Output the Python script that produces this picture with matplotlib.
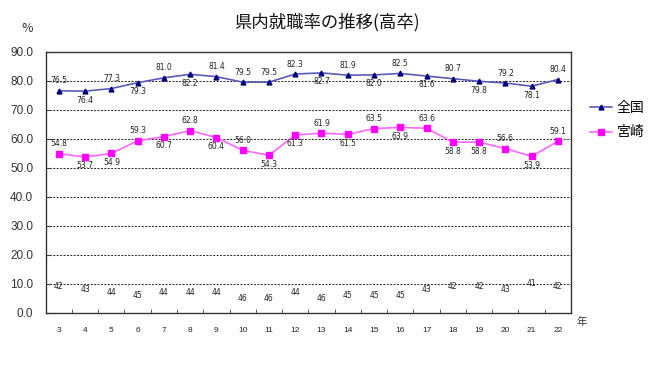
import matplotlib
matplotlib.use("Agg")
import matplotlib.pyplot as plt
from matplotlib.ticker import FixedLocator, MultipleLocator, FormatStrFormatter

plt.rcParams['font.family'] = ['Noto Sans CJK JP', 'DejaVu Sans']

years = ['3', '4', '5', '6', '7', '8', '9', '10', '11', '12', '13', '14', '15', '16', '17', '18', '19', '20', '21', '22']
zenkoku = [76.5, 76.4, 77.3, 79.3, 81.0, 82.2, 81.4, 79.5, 79.5, 82.3, 82.7, 81.9, 82.0, 82.5, 81.6, 80.7, 79.8, 79.2, 78.1, 80.4]
miyazaki = [54.8, 53.7, 54.9, 59.3, 60.7, 62.8, 60.4, 56.0, 54.3, 61.3, 61.9, 61.5, 63.5, 63.9, 63.6, 58.8, 58.8, 56.6, 53.9, 59.1]
ranks = [42, 43, 44, 45, 44, 44, 44, 46, 46, 44, 46, 45, 45, 45, 43, 42, 42, 43, 41, 42]

# label placement: 1 = above, -1 = below
zen_pos = [1, -1, 1, -1, 1, -1, 1, 1, 1, 1, -1, 1, -1, 1, -1, 1, -1, 1, -1, 1]
miy_pos = [1, -1, -1, 1, -1, 1, -1, 1, -1, -1, 1, -1, 1, -1, 1, -1, -1, 1, -1, 1]

fig = plt.figure(figsize=(6.6, 3.76), dpi=100)
ax = fig.add_axes([45.7 / 660, (376 - 312.7) / 376, 525.3 / 660, (312.7 - 51.7) / 376])

x = list(range(len(years)))
ax.plot(x, zenkoku, color='#5a5ab8', lw=1.2, marker='^', ms=3.5,
        mfc='#000080', mec='#000080', label='全国', zorder=3)
ax.plot(x, miyazaki, color='#ff66ff', lw=1.2, marker='s', ms=3.8,
        mfc='#ff00ff', mec='#ff00ff', label='宮崎', zorder=3)

for xi, v, p in zip(x, zenkoku, zen_pos):
    ax.annotate(f'{v:.1f}', (xi, v), textcoords='offset points',
                xytext=(0, 7.2 if p > 0 else -6.4), ha='center', va='center',
                fontsize=5.5, color='#222222', family=['DejaVu Sans'])
for xi, v, p in zip(x, miyazaki, miy_pos):
    ax.annotate(f'{v:.1f}', (xi, v), textcoords='offset points',
                xytext=(0, 7.2 if p > 0 else -6.4), ha='center', va='center',
                fontsize=5.5, color='#222222', family=['DejaVu Sans'])
for xi, r in zip(x, ranks):
    ax.text(xi, 51 - r, str(r), ha='center', va='center', fontsize=5.5,
            color='#222222', family=['DejaVu Sans'])

ax.set_xlim(-0.5, len(years) - 0.5)
ax.set_ylim(0, 90)
ax.yaxis.set_major_locator(MultipleLocator(10))
ax.yaxis.set_major_formatter(FormatStrFormatter('%.1f'))
ax.set_xticks(x)
ax.set_xticklabels(years)
ax.xaxis.set_minor_locator(FixedLocator([i + 0.5 for i in range(len(years) - 1)]))
ax.tick_params(axis='x', which='major', length=0, pad=10, labelsize=6, labelcolor='#222222')
ax.tick_params(axis='x', which='minor', direction='in', length=3, color='#444444')
ax.tick_params(axis='y', which='major', direction='in', length=3, pad=9, labelsize=8.5,
               labelcolor='#333333', color='#444444')
for lab in ax.get_yticklabels() + ax.get_xticklabels():
    lab.set_family(['Liberation Sans', 'DejaVu Sans'])

ax.grid(axis='y', color='#222222', ls=(0, (2, 1.5)), lw=0.7)
ax.set_axisbelow(True)
for s in ax.spines.values():
    s.set_color('#333333')
    s.set_linewidth(1.0)

fig.text(327 / 660, 1 - 22 / 376, '県内就職率の推移(高卒)', ha='center', va='center',
         fontsize=12.5, color='#111111')
fig.text(27 / 660, 1 - 29 / 376, '%', ha='center', va='center', fontsize=9, color='#333333')
fig.text(582 / 660, 1 - 322 / 376, '年', ha='center', va='center', fontsize=7.5, color='#333333')

leg = fig.legend(loc='upper left', bbox_to_anchor=(590 / 660, 1 - 101 / 376), frameon=False,
                 fontsize=10, handlelength=1.6, handletextpad=0.3, labelspacing=0.75,
                 borderpad=0, borderaxespad=0)

fig.savefig('out.png', dpi=100, facecolor='white')
